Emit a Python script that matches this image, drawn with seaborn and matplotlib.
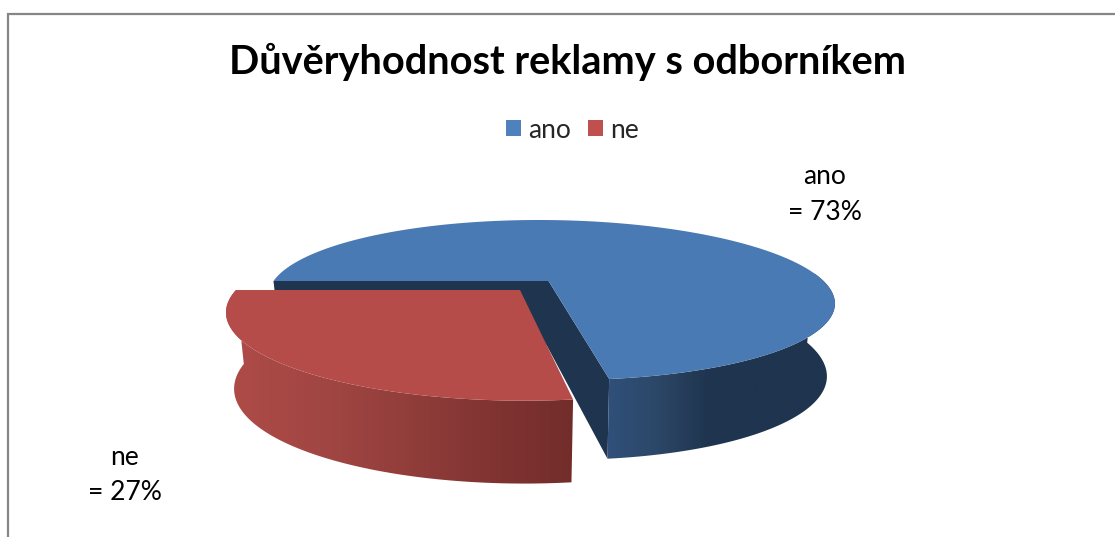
import numpy as np
import matplotlib
matplotlib.use("Agg")
import matplotlib.pyplot as plt
from matplotlib.patches import Patch, Polygon
import seaborn as sns

categories = ["ano", "ne"]
shares = [73, 27]
title_text = "Důvěryhodnost reklamy s odborníkem"

TOP_COLORS = ["#4a7ab4", "#b64c49"]
LEGEND_COLORS = ["#4f81bd", "#c0504d"]
WALL_COLOR = "#1f344e"
BLUE_SIDE = ["#30507a", "#2c4767", "#203650", "#1f344e", "#1f344e"]
RED_SIDE = ["#ad4b47", "#a24643", "#923e3b", "#813432", "#722d2b"]

sns.set_theme(style="white")
plt.rcParams["font.family"] = ["Lato", "DejaVu Sans"]

fig = plt.figure(figsize=(11.15, 5.37), dpi=100, facecolor="white")
ax = fig.add_axes([0, 0, 1, 1])
ax.set_xlim(0, 1115)
ax.set_ylim(537, 0)
ax.axis("off")

# Outer chart frame runs off the right and bottom of the canvas
ax.plot([8, 8, 1120], [545, 13.5, 13.5], color="#868686", lw=1.6, solid_joinstyle="miter")


def project(theta, apex, a, b, k, shear):
    """Perspective projection of unit-disc points onto the canvas."""
    u, v = np.cos(theta), np.sin(theta)
    w = 1 + k * v
    return apex[0] + (a * u + shear * v) / w, apex[1] - b * v / w


def extrude(x, y, theta, x_mid, depth, taper, squeeze):
    """Lower rim of the disc matching a point on its upper rim."""
    v = np.sin(theta)
    return x_mid + (x - x_mid) * (1 - squeeze), y + depth * (1 - taper * v)


# Slice angles follow the shares: clockwise from the left for "ano"
start = np.pi
end_blue = start - np.deg2rad(shares[0] * 3.6)
end_red = start + np.deg2rad(shares[1] * 3.6)

blue = dict(apex=(548.5, 281), a=275, b=75.5, k=0.2375, shear=-12)
red = dict(apex=(520, 290), a=284, b=80.8, k=0.27, shear=-3.3)
blue_rim = dict(x_mid=549, depth=70, taper=0.14, squeeze=0.028)
red_rim = dict(x_mid=515, depth=74, taper=0.12, squeeze=0.028)


def side_band(theta, params, rim, stops, x0, x1):
    """Curved wall of a slice, shaded left to right along the rim."""
    xt, yt = project(theta, **params)
    xb, yb = extrude(xt, yt, theta, **rim)
    outline = Polygon(np.c_[np.r_[xt, xb[::-1]], np.r_[yt, yb[::-1]]], closed=True,
                      facecolor="none", edgecolor="none", transform=ax.transData)
    ax.add_patch(outline)
    pal = np.array(sns.blend_palette(stops, 256))[None, :, :3]
    ymin, ymax = min(yt.min(), yb.min()) - 2, max(yt.max(), yb.max()) + 2
    xmin, xmax = min(xt.min(), xb.min()) - 2, max(xt.max(), xb.max()) + 2
    # Stretch the ramp between x0 and x1 across the band's own extent
    xs = np.linspace(xmin, xmax, 512)
    idx = np.clip((xs - x0) / (x1 - x0), 0, 1) * 255
    ramp = pal[:, idx.astype(int), :]
    im = ax.imshow(ramp, extent=(xmin, xmax, ymax, ymin), aspect="auto",
                   interpolation="bilinear", zorder=2)
    im.set_clip_path(outline)


# "ano": cut walls, curved side, then the top face
th_end = np.array([end_blue])
ex, ey = project(th_end, **blue)
ebx, eby = extrude(ex, ey, th_end, **blue_rim)
sx, sy = project(np.array([start]), **blue)
sbx, sby = extrude(sx, sy, np.array([start]), **blue_rim)
ax_x, ax_y = blue["apex"]
wall_x = [sx[0], ax_x, ex[0], ebx[0], ax_x - 2, sbx[0]]
wall_y = [sy[0], ax_y, ey[0], eby[0], ax_y + 64, sby[0]]
ax.fill(wall_x, wall_y, color=WALL_COLOR, lw=0, zorder=1)

side_band(np.linspace(end_blue, 0.1, 120), blue, blue_rim, BLUE_SIDE, ex[0], 800)

th = np.linspace(end_blue, start, 360)
px, py = project(th, **blue)
ax.fill(np.r_[ax_x, px], np.r_[ax_y, py], color=TOP_COLORS[0], lw=0, zorder=3)

# "ne": pulled out of the disc towards the viewer
side_band(np.linspace(start, end_red, 120), red, red_rim, RED_SIDE, 235, 573)
th = np.linspace(start, end_red, 180)
px, py = project(th, **red)
ax.fill(np.r_[red["apex"][0], px], np.r_[red["apex"][1], py], color=TOP_COLORS[1], lw=0, zorder=4)

ax.set_xlim(0, 1115)
ax.set_ylim(537, 0)

# Text
ax.text(567.5, 62, title_text, ha="center", va="center", fontsize=28.6, fontweight="bold", color="black")
ax.text(825, 194.5, f"{categories[0]}\n= {shares[0]}%", ha="center", va="center", fontsize=19,
        color="black", linespacing=1.52)
ax.text(125, 475, f"{categories[1]}\n= {shares[1]}%", ha="center", va="center", fontsize=19,
        color="black", linespacing=1.52)

handles = [Patch(facecolor=c, edgecolor="none", label=n) for c, n in zip(LEGEND_COLORS, categories)]
ax.legend(handles=handles, loc="center", bbox_to_anchor=(572.5, 130), bbox_transform=ax.transData,
          ncol=2, frameon=False, fontsize=19, handlelength=0.57, handleheight=0.57,
          handletextpad=0.27, columnspacing=0.62, borderpad=0)

fig.savefig("out.png", dpi=100, facecolor="white")
